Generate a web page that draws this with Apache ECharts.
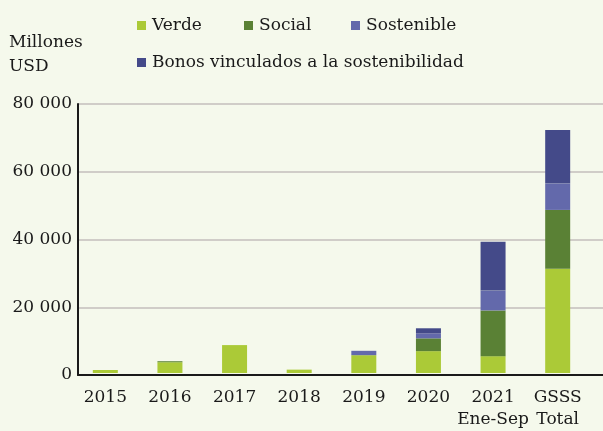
<!DOCTYPE html>
<html>
<head>
<meta charset="utf-8">
<script src="https://cdn.jsdelivr.net/npm/echarts@6/dist/echarts.min.js"></script>
<style>
  html, body { margin: 0; padding: 0; background: #f5f9ec; }
  #chart { width: 603px; height: 431px; }
</style>
</head>
<body>
<div id="chart"></div>
<script>
// Issuance by year, USD millions
const categories = ['2015', '2016', '2017', '2018', '2019', '2020', '2021\nEne-Sep', 'GSSS\nTotal'];
const verde      = [900, 3200, 8300, 1000, 5300, 6500, 5000, 31000];
const social     = [0, 300, 0, 0, 0, 3800, 13600, 17500];
const sostenible = [0, 0, 0, 0, 1300, 1500, 5900, 7900];
const vinculados = [0, 0, 0, 0, 0, 1500, 14500, 15900];
const yTicks = [0, 20000, 40000, 60000, 80000];

const seriesNames = ['Verde', 'Social', 'Sostenible', 'Bonos vinculados a la sostenibilidad'];
const colors = ['#abca37', '#5a8135', '#6369ab', '#444a89'];
const FONT = 'DejaVu Serif';
const TXT = '#1a1a1a';

const fmt = v => String(v).replace(/\B(?=(\d{3})+(?!\d))/g, ' ');

const chart = echarts.init(document.getElementById('chart'), null, { renderer: 'canvas' });

function legendAt(name, left, top) {
  return {
    data: [name], left: left, top: top, orient: 'horizontal',
    icon: 'rect', itemWidth: 9, itemHeight: 9, itemGap: 0,
    textStyle: { fontFamily: FONT, fontSize: 17, color: TXT, padding: [0, 0, 0, 1] },
    selectedMode: false, padding: 0
  };
}

chart.setOption({
  backgroundColor: '#f5f9ec',
  animation: false,
  color: colors,
  title: {
    text: 'Millones\nUSD', left: 9, top: 31, padding: 0,
    textStyle: { fontFamily: FONT, fontSize: 17, fontWeight: 'normal', color: TXT, lineHeight: 24 }
  },
  legend: [
    legendAt(seriesNames[0], 137, 17),
    legendAt(seriesNames[1], 244, 17),
    legendAt(seriesNames[2], 351, 17),
    legendAt(seriesNames[3], 137, 54)
  ],
  grid: [
    // axis frame and gridlines
    { left: 78, right: 0, top: 104, bottom: 56 },
    // bars and category labels
    { left: 73, right: 13, top: 104, bottom: 56 }
  ],
  xAxis: [
    {
      gridIndex: 0, type: 'value', min: 0, max: 1,
      axisLine: { show: true, lineStyle: { color: '#1a1a1a', width: 2 } },
      axisTick: { show: false }, axisLabel: { show: false }, splitLine: { show: false }
    },
    {
      gridIndex: 1, type: 'category', data: categories,
      axisLine: { show: false }, axisTick: { show: false },
      axisLabel: { fontFamily: FONT, fontSize: 17, color: TXT, margin: 14, lineHeight: 22, interval: 0 }
    }
  ],
  yAxis: [
    {
      gridIndex: 0, type: 'value', min: yTicks[0], max: yTicks[yTicks.length - 1], interval: 20000,
      axisLine: { show: true, lineStyle: { color: '#1a1a1a', width: 2 } },
      axisTick: { show: false },
      axisLabel: { fontFamily: FONT, fontSize: 17, color: TXT, margin: 6, formatter: fmt },
      splitLine: { show: true, lineStyle: { color: '#d0cdc8', width: 2 } }
    },
    {
      gridIndex: 1, type: 'value', min: yTicks[0], max: yTicks[yTicks.length - 1], interval: 20000,
      show: false, splitLine: { show: false }
    }
  ],
  series: [verde, social, sostenible, vinculados].map((d, i) => ({
    name: seriesNames[i], type: 'bar', stack: 'total', data: d,
    xAxisIndex: 1, yAxisIndex: 1, barWidth: 25,
    itemStyle: { color: colors[i] }
  }))
});
</script>
</body>
</html>
